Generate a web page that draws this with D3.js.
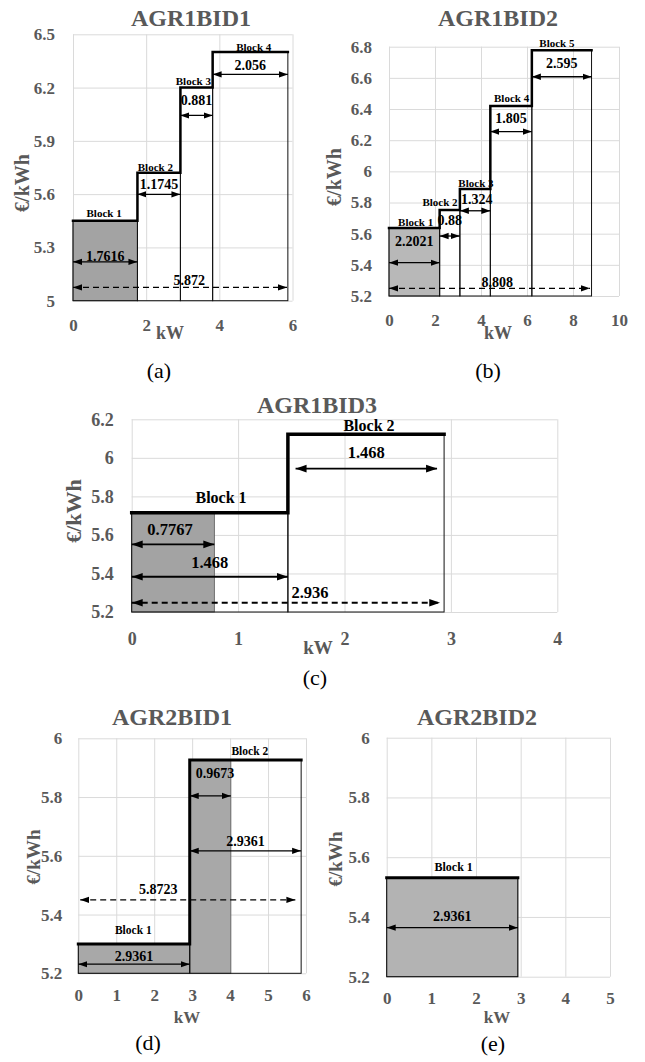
<!DOCTYPE html>
<html>
<head>
<meta charset="utf-8">
<script src="https://cdn.jsdelivr.net/npm/d3@7"></script>
<style>
  body { margin: 0; background: #fff; }
  text { font-family: "Liberation Serif", "Times New Roman", serif; }
</style>
</head>
<body>
<script>
const W = 645, H = 1062;

// (a) AGR1BID1
const a1Qty = [1.7616, 1.1745, 0.881, 2.056];
const a1Price = [5.45, 5.72, 6.2, 6.4];
const a1Cleared = 1.7616;
const a1XTicks = [0, 2, 4, 6];
const a1YTicks = [5, 5.3, 5.6, 5.9, 6.2, 6.5];
const a1LabelX = [0.85, 2.25, 3.29, 4.94];
const a1LabelY = [5.494, 5.752, 6.236, 6.428];
const a1Arrows = [
  { from: 0, to: 1.7616, at: 5.219, text: "1.7616", textAt: 5.252 },
  { from: 1.7616, to: 2.9361, at: 5.599, text: "1.1745", textAt: 5.657 },
  { from: 2.9361, to: 3.8171, at: 6.043, text: "0.881", textAt: 6.129 },
  { from: 3.8171, to: 5.8731, at: 6.274, text: "2.056", textAt: 6.326 },
  { from: 0, to: 5.85, at: 5.075, text: "5.872", textAt: 5.117, textX: 3.18, dashed: true }
];

// (b) AGR1BID2
const b1Qty = [2.2021, 0.88, 1.324, 1.805, 2.595];
const b1Price = [5.636, 5.752, 5.887, 6.42, 6.777];
const b1Cleared = 2.2021;
const b1XTicks = [0, 2, 4, 6, 8, 10];
const b1YTicks = [5.2, 5.4, 5.6, 5.8, 6, 6.2, 6.4, 6.6, 6.8];
const b1LabelX = [1.16, 2.22, 3.78, 5.33, 7.3];
const b1LabelY = [5.675, 5.803, 5.925, 6.471, 6.824];
const b1Arrows = [
  { from: 0, to: 2.2021, at: 5.414, text: "2.2021", textAt: 5.555 },
  { from: 2.2021, to: 3.0821, at: 5.585, text: "0.88", textAt: 5.688 },
  { from: 3.0821, to: 4.4061, at: 5.747, text: "1.324", textAt: 5.823, textX: 3.81 },
  { from: 4.4061, to: 6.2111, at: 6.255, text: "1.805", textAt: 6.343 },
  { from: 6.2111, to: 8.8061, at: 6.607, text: "2.595", textAt: 6.695 },
  { from: 0, to: 8.74, at: 5.249, text: "8.808", textAt: 5.292, textX: 4.71, dashed: true }
];

// (c) AGR1BID3
const c1Qty = [1.468, 1.468];
const c1Price = [5.715, 6.122];
const c1Cleared = 0.7767;
const c1XTicks = [0, 1, 2, 3, 4];
const c1YTicks = [5.2, 5.4, 5.6, 5.8, 6, 6.2];
const c1LabelX = [0.84, 2.23];
const c1LabelY = [5.795, 6.17];
const c1Arrows = [
  { from: 0, to: 0.7767, at: 5.551, text: "0.7767", textAt: 5.629, textX: 0.36 },
  { from: 0, to: 1.468, at: 5.383, text: "1.468", textAt: 5.456 },
  { from: 1.54, to: 2.87, at: 5.944, text: "1.468", textAt: 6.027 },
  { from: 0, to: 2.9, at: 5.248, text: "2.936", textAt: 5.302, textX: 1.676, dashed: true }
];

// (d) AGR2BID1
const d1Qty = [2.9361, 2.9361];
const d1Price = [5.3, 5.926];
const d1Cleared = 4.02;
const d1XTicks = [0, 1, 2, 3, 4, 5, 6];
const d1YTicks = [5.2, 5.4, 5.6, 5.8, 6];
const d1LabelX = [1.45, 4.52];
const d1LabelY = [5.347, 5.958];
const d1Arrows = [
  { from: 0, to: 2.9361, at: 5.231, text: "2.9361", textAt: 5.259 },
  { from: 2.9361, to: 4.02, at: 5.804, text: "0.9673", textAt: 5.881, textX: 3.6 },
  { from: 2.9361, to: 5.8722, at: 5.617, text: "2.9361", textAt: 5.651 },
  { from: 0.05, to: 5.72, at: 5.45, text: "5.8723", textAt: 5.486, textX: 2.105, dashed: true }
];

// (e) AGR2BID2
const e1Qty = [2.9361];
const e1Price = [5.531];
const e1Cleared = 2.9361;
const e1XTicks = [0, 1, 2, 3, 4, 5];
const e1YTicks = [5.2, 5.4, 5.6, 5.8, 6];
const e1LabelX = [1.5];
const e1LabelY = [5.568];
const e1Arrows = [
  { from: 0, to: 2.9361, at: 5.364, text: "2.9361", textAt: 5.403 }
];

const svg = d3.select("body").append("svg").attr("width", W).attr("height", H);
const defs = svg.append("defs");
const AXIS = "#595959";

const panels = [
  { key: "a", title: "AGR1BID1", caption: "(a)", qty: a1Qty, price: a1Price, cleared: a1Cleared,
    xTicks: a1XTicks, yTicks: a1YTicks, labelX: a1LabelX, labelY: a1LabelY, arrows: a1Arrows,
    box: [73, 292.5, 34.3, 300.7], titleAt: [191, 18], capAt: [159, 370], kwAt: [170, 333], ytAt: [22, 183],
    xPad: 18, yPad: 18, fill: "#a3a3a3", fs: { title: 24, tick: 17, yt: 20, kw: 18, block: 11, ann: 14 },
    step: 2.5, head: 9, aw: 1.3 },
  { key: "b", title: "AGR1BID2", caption: "(b)", qty: b1Qty, price: b1Price, cleared: b1Cleared,
    xTicks: b1XTicks, yTicks: b1YTicks, labelX: b1LabelX, labelY: b1LabelY, arrows: b1Arrows,
    box: [389, 619, 46.7, 296], titleAt: [498, 18], capAt: [488, 370], kwAt: [498, 333], ytAt: [334, 177],
    xPad: 18, yPad: 17, fill: "#b8b8b8", fs: { title: 24, tick: 17, yt: 20, kw: 18, block: 11, ann: 14 },
    step: 2.5, head: 9, aw: 1.3 },
  { key: "c", title: "AGR1BID3", caption: "(c)", qty: c1Qty, price: c1Price, cleared: c1Cleared,
    xTicks: c1XTicks, yTicks: c1YTicks, labelX: c1LabelX, labelY: c1LabelY, arrows: c1Arrows,
    box: [131.7, 557.3, 419.3, 612], titleAt: [317, 405], capAt: [315, 677], kwAt: [318, 647], ytAt: [73, 511],
    xPad: 20, yPad: 18, fill: "#a3a3a3", fs: { title: 24, tick: 18, yt: 22, kw: 19, block: 16, ann: 16.5 },
    step: 3.5, head: 11, aw: 1.8 },
  { key: "d", title: "AGR2BID1", caption: "(d)", qty: d1Qty, price: d1Price, cleared: d1Cleared,
    xTicks: d1XTicks, yTicks: d1YTicks, labelX: d1LabelX, labelY: d1LabelY, arrows: d1Arrows,
    box: [78.3, 306, 738.3, 973.3], titleAt: [172, 717], capAt: [148, 1042], kwAt: [187, 1017], ytAt: [33, 857],
    xPad: 16, yPad: 16, fill: "#a8a8a8", fs: { title: 24, tick: 17, yt: 19, kw: 17, block: 11.5, ann: 14 },
    step: 3, head: 9, aw: 1.3 },
  { key: "e", title: "AGR2BID2", caption: "(e)", qty: e1Qty, price: e1Price, cleared: e1Cleared,
    xTicks: e1XTicks, yTicks: e1YTicks, labelX: e1LabelX, labelY: e1LabelY, arrows: e1Arrows,
    box: [386.7, 610, 737.7, 976.7], titleAt: [477, 717], capAt: [493, 1043], kwAt: [497, 1017], ytAt: [335, 859],
    xPad: 15, yPad: 17, fill: "#b3b3b3", fs: { title: 24, tick: 17, yt: 19, kw: 17, block: 12, ann: 14 },
    step: 3, head: 9, aw: 1.3 }
];

const fmt = d => String(+d.toFixed(2));

panels.forEach(p => {
  const [L, R, T, B] = p.box;
  const x = d3.scaleLinear().domain([p.xTicks[0], p.xTicks[p.xTicks.length - 1]]).range([L, R]);
  const y = d3.scaleLinear().domain([p.yTicks[0], p.yTicks[p.yTicks.length - 1]]).range([B, T]);
  const g = svg.append("g");

  // grid
  g.append("g").attr("transform", `translate(0,${B})`)
    .call(d3.axisBottom(x).tickValues(p.xTicks).tickSize(-(B - T)).tickFormat(""))
    .call(s => s.select(".domain").remove())
    .selectAll("line").attr("stroke", "#dadada");
  g.append("g").attr("transform", `translate(${L},0)`)
    .call(d3.axisLeft(y).tickValues(p.yTicks).tickSize(-(R - L)).tickFormat(""))
    .call(s => s.select(".domain").remove())
    .selectAll("line").attr("stroke", "#dadada");

  // tick labels
  g.append("g").attr("transform", `translate(0,${B})`)
    .call(d3.axisBottom(x).tickValues(p.xTicks).tickSize(0).tickPadding(p.xPad).tickFormat(fmt))
    .call(s => s.select(".domain").remove())
    .selectAll("text").attr("fill", AXIS)
    .style("font-family", "'Liberation Serif'").style("font-weight", "bold").style("font-size", p.fs.tick + "px");
  g.append("g").attr("transform", `translate(${L},0)`)
    .call(d3.axisLeft(y).tickValues(p.yTicks).tickSize(0).tickPadding(p.yPad).tickFormat(fmt))
    .call(s => s.select(".domain").remove())
    .selectAll("text").attr("fill", AXIS)
    .style("font-family", "'Liberation Serif'").style("font-weight", "bold").style("font-size", p.fs.tick + "px");

  const ends = Array.from(d3.cumsum(p.qty));
  const starts = ends.map((e, i) => e - p.qty[i]);

  // cleared part (grey)
  p.qty.forEach((q, i) => {
    const e = Math.min(ends[i], p.cleared);
    if (e > starts[i]) {
      g.append("rect")
        .attr("x", x(starts[i])).attr("y", y(p.price[i]))
        .attr("width", x(e) - x(starts[i])).attr("height", B - y(p.price[i]))
        .attr("fill", p.fill).attr("stroke", "#555").attr("stroke-width", 0.8);
    }
  });

  // block outlines
  g.selectAll(null).data(p.qty).enter().append("rect")
    .attr("x", (d, i) => x(starts[i]))
    .attr("y", (d, i) => y(p.price[i]))
    .attr("width", (d, i) => x(ends[i]) - x(starts[i]))
    .attr("height", (d, i) => B - y(p.price[i]))
    .attr("fill", "none").attr("stroke", "#111").attr("stroke-width", 1);

  // step curve
  let path = `M${x(0)},${y(p.price[0])}`;
  p.qty.forEach((q, i) => {
    path += `H${x(ends[i])}`;
    if (i < p.qty.length - 1) path += `V${y(p.price[i + 1])}`;
  });
  g.append("path").attr("d", path).attr("fill", "none").attr("stroke", "#000")
    .attr("stroke-width", p.step).attr("stroke-linejoin", "miter").attr("stroke-linecap", "square");

  // block labels
  g.selectAll(null).data(p.qty).enter().append("text")
    .attr("x", (d, i) => x(p.labelX[i]))
    .attr("y", (d, i) => y(p.labelY[i]))
    .attr("dy", "0.35em").attr("text-anchor", "middle")
    .style("font-weight", "bold").style("font-size", p.fs.block + "px")
    .text((d, i) => "Block " + (i + 1));

  // arrows
  defs.append("marker").attr("id", "arr-" + p.key)
    .attr("viewBox", "0 0 10 10").attr("refX", 10).attr("refY", 5)
    .attr("markerWidth", p.head).attr("markerHeight", p.head)
    .attr("markerUnits", "userSpaceOnUse").attr("orient", "auto-start-reverse")
    .append("path").attr("d", "M0,1.5L10,5L0,8.5z").attr("fill", "#000");

  g.selectAll(null).data(p.arrows).enter().append("line")
    .attr("x1", d => x(d.from)).attr("x2", d => x(d.to))
    .attr("y1", d => y(d.at)).attr("y2", d => y(d.at))
    .attr("stroke", "#000").attr("stroke-width", p.aw)
    .attr("stroke-dasharray", d => d.dashed ? "6,4" : null)
    .attr("marker-start", `url(#arr-${p.key})`).attr("marker-end", `url(#arr-${p.key})`);

  g.selectAll(null).data(p.arrows).enter().append("text")
    .attr("x", d => x(d.textX !== undefined ? d.textX : (d.from + d.to) / 2))
    .attr("y", d => y(d.textAt))
    .attr("dy", "0.35em").attr("text-anchor", "middle")
    .style("font-weight", "bold").style("font-size", p.fs.ann + "px")
    .text(d => d.text);

  // titles
  g.append("text").attr("x", p.titleAt[0]).attr("y", p.titleAt[1]).attr("dy", "0.35em")
    .attr("text-anchor", "middle").attr("fill", AXIS)
    .style("font-weight", "bold").style("font-size", p.fs.title + "px").text(p.title);

  g.append("text").attr("x", p.kwAt[0]).attr("y", p.kwAt[1]).attr("dy", "0.35em")
    .attr("text-anchor", "middle").attr("fill", AXIS)
    .style("font-weight", "bold").style("font-size", p.fs.kw + "px").text("kW");

  g.append("text").attr("transform", `translate(${p.ytAt[0]},${p.ytAt[1]}) rotate(-90)`)
    .attr("dy", "0.35em").attr("text-anchor", "middle").attr("fill", AXIS)
    .style("font-weight", "bold").style("font-size", p.fs.yt + "px").text("€/kWh");

  g.append("text").attr("x", p.capAt[0]).attr("y", p.capAt[1]).attr("dy", "0.35em")
    .attr("text-anchor", "middle").attr("fill", "#000")
    .style("font-size", "22px").text(p.caption);
});
</script>
</body>
</html>
